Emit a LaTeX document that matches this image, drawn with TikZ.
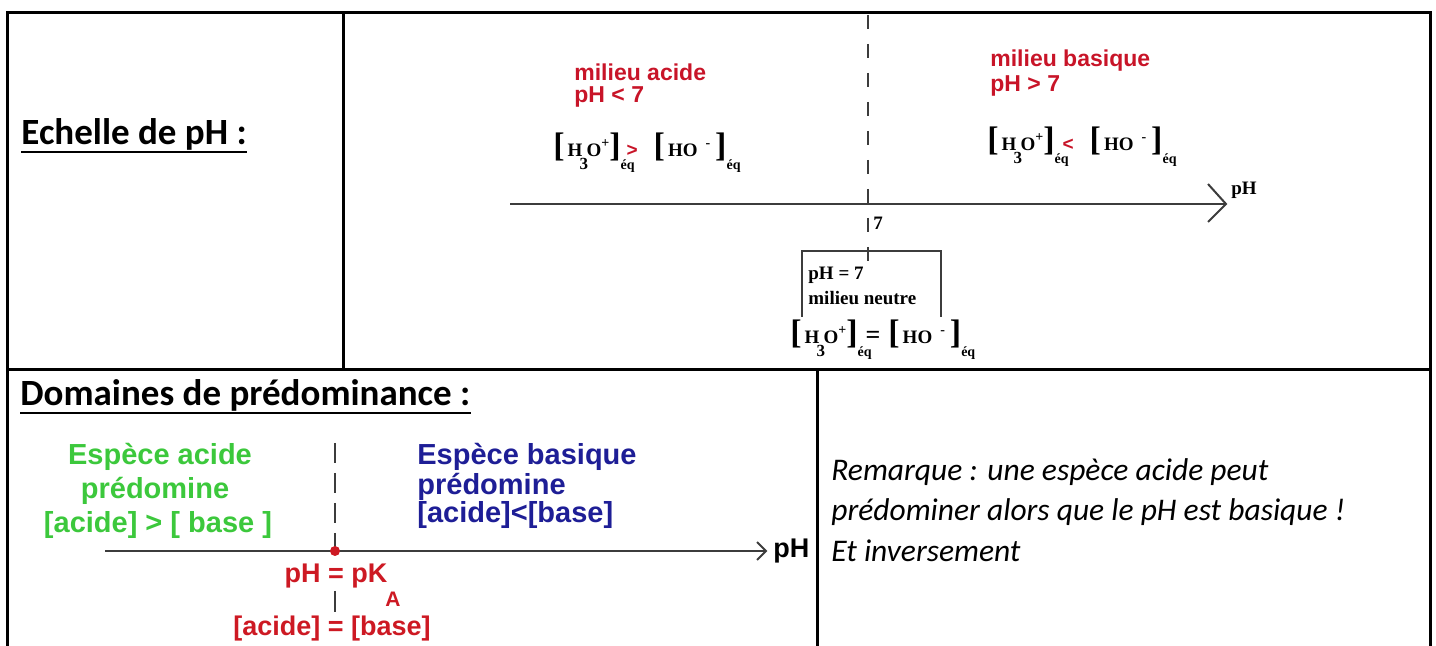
\documentclass[tikz,border=0pt]{standalone}
\usepackage{fontspec}
\setmainfont{Carlito}
\newfontfamily\arialf{Liberation Sans}
\newfontfamily\tnrf{Liberation Serif}
\definecolor{topred}{RGB}{200,20,40}
\definecolor{botred}{RGB}{205,25,35}
\definecolor{grn}{RGB}{60,200,60}
\definecolor{blu}{RGB}{30,30,150}
\definecolor{axgray}{RGB}{60,60,60}
\newcommand\brk[1]{{\fontsize{17}{17}\selectfont #1}}
\newcommand\eqs{\rlap{\raisebox{-6.5pt}{\fontsize{7}{7}\selectfont éq}}}
\newcommand\hthree{\brk{[}\kern1.5pt H\rlap{\kern-1.5pt\raisebox{-6.5pt}{\fontsize{8.5}{8.5}\selectfont 3}}\kern2pt O\raisebox{4.5pt}{\fontsize{7}{7}\selectfont +}\brk{]}}
\newcommand\hominus{\brk{[}\kern1.5pt HO\kern4pt\raisebox{4.5pt}{\fontsize{7}{7}\selectfont -}\kern2.5pt\brk{]}}
\tikzset{
  border/.style={line width=1.5pt, black},
  title/.style={inner sep=0pt, anchor=base west, font=\fontsize{18.5}{22}\selectfont\bfseries},
  redlab/.style={inner sep=0pt, anchor=west, text=topred, font=\arialf\bfseries\fontsize{11.5}{13}\selectfont},
  chem/.style={inner sep=0pt, anchor=west, font=\tnrf\bfseries\fontsize{9.5}{11}\selectfont},
  serlab/.style={inner sep=0pt, anchor=west, font=\tnrf\bfseries\fontsize{9.5}{11}\selectfont},
  axis/.style={line width=1pt, axgray},
  dashv/.style={line width=0.8pt, axgray, dash pattern=on 7pt off 7.5pt},
  sanslab/.style={inner sep=0pt, font=\arialf\bfseries\fontsize{14.5}{17}\selectfont},
  redsans/.style={inner sep=0pt, text=botred, font=\arialf\bfseries\fontsize{13.5}{16}\selectfont},
}
\begin{document}
\begin{tikzpicture}[x=0.5pt, y=-0.5pt]
\useasboundingbox (0,0) rectangle (1436,646);
% table
\coordinate (tl) at (7,13);
\coordinate (tr) at (1430,13);
\coordinate (bl) at (7,646);
\coordinate (br) at (1430,646);
\coordinate (c1t) at (343,13);
\coordinate (c1b) at (343,370);
\coordinate (rl) at (7,370);
\coordinate (rr) at (1430,370);
\coordinate (c2t) at (817,370);
\coordinate (c2b) at (817,646);
\draw[border] (bl) -- (tl) -- (tr) -- (br);
\draw[border] (c1t) -- (c1b);
\draw[border] (rl) -- (rr);
\draw[border] (c2t) -- (c2b);
% titles
\node[title] (t1) at (21,145) {Echelle de pH :};
\draw[line width=1.4pt] ([yshift=-3.5pt]t1.base west) -- ([yshift=-3.5pt]t1.base east);
\node[title] (t2) at (20,406) {Domaines de prédominance :};
\draw[line width=1.4pt] ([yshift=-3.5pt]t2.base west) -- ([yshift=-3.5pt]t2.base east);
% remark
\node[inner sep=0pt, anchor=north west, align=left, font=\itshape\fontsize{15.75}{20.3}\selectfont] (rem) at (831,458)
  {Remarque : une espèce acide peut\\prédominer alors que le pH est basique !\\Et inversement};
% ===== pH scale
\coordinate (d1t) at (868,15);
\coordinate (d1b) at (868,262);
\draw[dashv] (d1t) -- (d1b);
\coordinate (a1s) at (510,204);
\coordinate (a1e) at (1226,204);
\draw[axis] (a1s) -- (a1e);
\draw[axis] ([shift={(-18,-20)}]a1e) -- (a1e) -- ([shift={(-18,18)}]a1e);
\node[serlab] (ph1) at (1231,190) {pH};
\node[serlab] (seven) at (873,223) {7};
\coordinate (bx1) at (802,317);
\coordinate (bx2) at (802,251);
\coordinate (bx3) at (941,251);
\coordinate (bx4) at (941,317);
\draw[line width=0.9pt, axgray] (bx1) -- (bx2) -- (bx3) -- (bx4);
\node[serlab] (n1) at (808,275) {pH = 7};
\node[serlab] (n2) at (808,298) {milieu neutre};
\node[redlab] (ma) at (574,72) {milieu acide};
\node[redlab] (pa) at (574,97) {pH < 7};
\node[redlab] (mb) at (990,61) {milieu basique};
\node[redlab] (pb) at (990,86) {pH > 7};
\node[chem] (ea) at (553,153) {\hthree\eqs\kern3pt{\arialf\color{topred}>}\kern8pt\hominus\eqs};
\node[chem] (eb) at (987,147) {\hthree\eqs\kern4pt{\arialf\color{topred}<}\kern8pt\hominus\eqs};
\node[chem] (en) at (790,340) {\hthree\eqs\kern4pt{\fontsize{13}{13}\selectfont =}\kern4pt\hominus\eqs};
% ===== domaines
\coordinate (d2t) at (335,443);
\coordinate (d2m) at (335,548);
\draw[line width=0.8pt, axgray, dash pattern=on 10pt off 5pt] (d2t) -- (d2m);
\coordinate (d2u) at (335,591);
\coordinate (d2b) at (335,612);
\draw[line width=0.8pt, axgray] (d2u) -- (d2b);
\coordinate (a2s) at (105,551);
\coordinate (a2e) at (766,551);
\draw[axis] (a2s) -- (a2e);
\draw[axis] ([shift={(-9,-9)}]a2e) -- (a2e) -- ([shift={(-9,9)}]a2e);
\node[circle, fill=botred, inner sep=0pt, minimum size=5pt] (dot) at (335,551) {};
\node[sanslab, anchor=west, text=black, font=\arialf\bfseries\fontsize{13.5}{16}\selectfont] (ph2) at (773,551) {pH};
\node[sanslab, text=grn] (g1) at (160,457) {Espèce acide};
\node[sanslab, text=grn] (g2) at (155,491) {prédomine};
\node[sanslab, text=grn] (g3) at (158,525) {[acide] > [ base ]};
\node[sanslab, anchor=west, text=blu] (b1) at (417,457) {Espèce basique};
\node[sanslab, anchor=west, text=blu] (b2) at (417,487) {prédomine};
\node[sanslab, anchor=west, text=blu] (b3) at (417,515) {[acide]<[base]};
\node[redsans] (pk) at (336,576) {pH = pK};
\node[redsans, font=\arialf\bfseries\fontsize{10.5}{12}\selectfont] (pka) at (393,599) {A};
\node[redsans] (eqab) at (332,629) {[acide] = [base]};
\end{tikzpicture}
\end{document}
